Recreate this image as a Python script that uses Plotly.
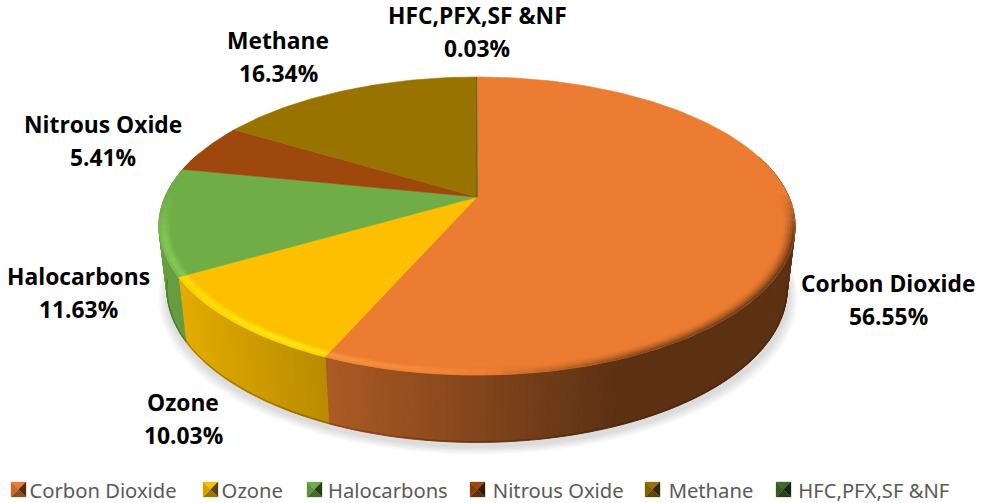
import numpy as np
import plotly.graph_objects as go

categories = ["Corbon Dioxide", "Ozone", "Halocarbons", "Nitrous Oxide", "Methane", "HFC,PFX,SF &NF"]
values = [56.55, 10.03, 11.63, 5.41, 16.34, 0.03]
colors = ["#EB7C31", "#FDBF00", "#70AD47", "#9E480E", "#997300", "#43682B"]

label_pos = [(888, 300), (183, 419), (78, 293), (103, 141), (278, 56.5), (477, 31.5)]
swatch_x = [11, 203, 307, 470, 645, 776]

W, H = 982, 503
CX, CY = 477.0, 197.0
A, B, K = 143.4, 312.0, 0.1947
SX, SY, DY = 0.975, 1.03, 62.0


def rgb(h):
    return np.array([int(h[i:i + 2], 16) for i in (1, 3, 5)], float)


def css(c):
    c = np.clip(c, 0, 255).round().astype(int)
    return f"rgb({c[0]},{c[1]},{c[2]})"


def top(theta, r=1.0):
    X, Y = r * np.sin(theta), r * np.cos(theta)
    w = 1 + K * Y
    return CX + B * X / w, CY - A * Y / w


def bottom(theta):
    x, y = top(theta)
    return CX + (x - CX) * SX, CY + (y - CY) * SY + DY


def side_shade(x):
    return np.interp(x, [160, 620], [0.92, 0.39])


def angles(a, b, step):
    n = max(int(np.ceil((b - a) / step)), 1)
    return np.linspace(a, b, n + 1)


fig = go.Figure()


def poly(xs, ys, fill, line=None, lw=0.7):
    fig.add_trace(go.Scatter(
        x=list(xs), y=list(ys), mode="lines", fill="toself", fillcolor=fill,
        line=dict(color=line or fill, width=lw), hoverinfo="skip", showlegend=False))


# soft shadow beneath the pie
full = np.linspace(0, 2 * np.pi, 181)
bx, by = bottom(full)
mx, my = CX + 1.0, by.mean()
for s, off in zip([1.030, 1.024, 1.018, 1.012, 1.006], [9, 8, 7, 6, 5]):
    poly(mx + (bx - CX) * s, by + off + (by - my) * (s - 1) * 0.6, "rgba(0,0,0,0.028)",
         line="rgba(0,0,0,0)", lw=0)

total = sum(values)
edges = np.concatenate([[0], np.cumsum(values)]) / total * 2 * np.pi

# side wall, sliced so it can carry a left-to-right shading
for i, c in enumerate(colors):
    base = rgb(c)
    th = angles(edges[i], edges[i + 1], np.radians(1.0))
    for t0, t1 in zip(th[:-1], th[1:]):
        if np.cos((t0 + t1) / 2) > 0.3:
            continue
        x0, y0 = top(t0)
        x1, y1 = top(t1)
        x2, y2 = bottom(t1)
        x3, y3 = bottom(t0)
        shade = side_shade((x0 + x1) / 2)
        poly([x0, x1, x2, x3, x0], [y0, y1, y2, y3, y0], css(base * shade), lw=1.0)

# dark thin line along the wall's lower edge
th = np.radians(np.linspace(100, 262, 120))
bx, by = bottom(th)
fig.add_trace(go.Scatter(x=bx, y=by - 0.6, mode="lines", line=dict(color="rgba(40,20,0,0.28)", width=1.4),
                         hoverinfo="skip", showlegend=False))

# top faces
for i, c in enumerate(colors):
    th = angles(edges[i], edges[i + 1], np.radians(1.0))
    x, y = top(th)
    poly(np.r_[CX, x, CX], np.r_[CY, y, CY], c, lw=0.6)

# bevel rings along the near edge of the top face
ring_edges = np.linspace(0.962, 1.0, 6)
for i, c in enumerate(colors):
    base = rgb(c)
    light = np.minimum(base * 1.15 + 15, 255)
    dark = base * 0.39
    th = angles(edges[i], edges[i + 1], np.radians(2.5))
    for t0, t1 in zip(th[:-1], th[1:]):
        tm = (t0 + t1) / 2
        fade = np.clip((0.03 - np.cos(tm)) / 0.3, 0, 1)
        if fade <= 0:
            continue
        xm = top(tm)[0]
        la = np.interp(xm, [160, 280, 520], [0.6, 1.0, 0.0]) * fade
        da = np.interp(xm, [480, 640, 795], [0.0, 0.8, 1.0]) * fade
        for r0, r1 in zip(ring_edges[:-1], ring_edges[1:]):
            u = ((r0 + r1) / 2 - ring_edges[0]) / (ring_edges[-1] - ring_edges[0])
            lp = np.sin(np.pi * min(u / 1.25, 1.0)) ** 2
            dp = u ** 1.6
            col = base + (light - base) * la * lp + (dark - base) * da * dp
            x0, y0 = top(t0, r0)
            x1, y1 = top(t1, r0)
            x2, y2 = top(t1, r1)
            x3, y3 = top(t0, r1)
            poly([x0, x1, x2, x3, x0], [y0, y1, y2, y3, y0], css(col), lw=0.3)

# legend entries: real legend text, bevelled swatches drawn beside it
for name, c in zip(categories, colors):
    fig.add_trace(go.Scatter(x=[None], y=[None], mode="markers", name=name,
                             marker=dict(symbol="square", size=1, color="rgba(0,0,0,0)")))

S = 15
Y0 = 482
for sx, c in zip(swatch_x, colors):
    base = rgb(c)
    m = (sx + S / 2, Y0 + S / 2)
    corners = [(sx, Y0), (sx + S, Y0), (sx + S, Y0 + S), (sx, Y0 + S)]
    for k, f in enumerate([1.0, 0.35, 0.62, 0.85]):
        p, q = corners[k], corners[(k + 1) % 4]
        poly([p[0], q[0], m[0], p[0]], [p[1], q[1], m[1], p[1]], css(base * f), lw=0.3)

# data labels: one annotation per line so the line spacing can match
for name, v, (x, y) in zip(categories, values, label_pos):
    for text, yy in ((name, y - 16.5), (f"{v:.2f}%", y + 16.5)):
        fig.add_annotation(x=x, y=yy, text=f"<b>{text}</b>", showarrow=False,
                           font=dict(family="Open Sans", size=22.8, color="#000000"), align="center")

fig.update_layout(
    width=W, height=H, margin=dict(l=0, r=0, t=0, b=0, autoexpand=False),
    paper_bgcolor="white", plot_bgcolor="white",
    xaxis=dict(range=[0, W], visible=False, fixedrange=True),
    yaxis=dict(range=[H, 0], visible=False, fixedrange=True),
    legend=dict(orientation="h", x=472.5 / W, xanchor="center", y=(H - 490) / H, yanchor="middle",
                font=dict(family="Noto Sans", size=20.2, color="#595959"),
                bgcolor="rgba(0,0,0,0)", traceorder="normal"),
)
fig.write_html("out.html", config={"displayModeBar": False},
               post_script="document.body.style.margin='0';document.body.style.overflow='hidden';")
